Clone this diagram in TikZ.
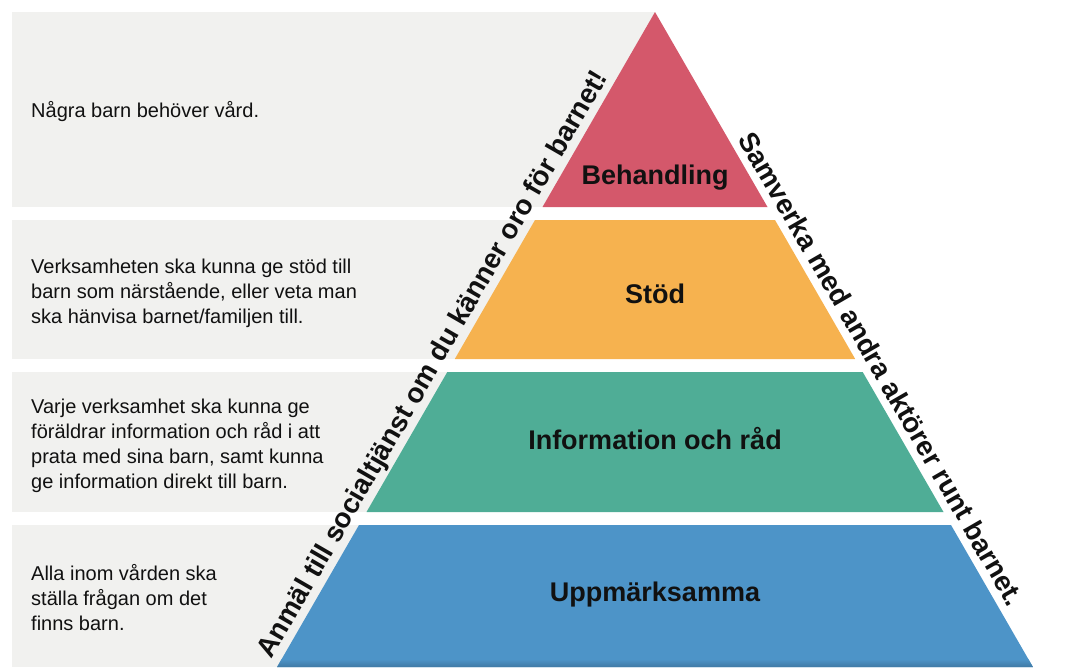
\documentclass[tikz,border=0pt]{standalone}
\usepackage{fontspec}
\setmainfont{Liberation Sans}
\definecolor{panel}{HTML}{F1F1EF}
\definecolor{cred}{HTML}{D4586B}
\definecolor{corange}{HTML}{F6B24F}
\definecolor{cgreen}{HTML}{4FAD96}
\definecolor{cblue}{HTML}{4D94C8}
\definecolor{ink}{HTML}{111111}
\begin{document}
\begin{tikzpicture}[x=1pt,y=-1pt,
  body/.style={anchor=base west, inner sep=0pt, font=\fontsize{20}{25}\selectfont, text=ink},
  level/.style={anchor=base, inner sep=0pt, font=\fontsize{27}{32}\selectfont\bfseries, text=ink},
  side/.style={anchor=base, inner sep=0pt, font=\fontsize{27.7}{32}\selectfont\bfseries, text=ink},
  panelbox/.style={fill=panel, draw=none}]
\useasboundingbox (0,0) rectangle (1084,667);
% grey panels
\path[panelbox] (12,12) rectangle (655,207);
\path[panelbox] (12,220) rectangle (655,359);
\path[panelbox] (12,372) rectangle (655,512);
\path[panelbox] (12,525) rectangle (655,667);
% pyramid bands
\fill[cred] (655,12) -- (767.5,207) -- (542.5,207) -- cycle;
\fill[corange] (535,220) -- (775,220) -- (855.2,359) -- (454.8,359) -- cycle;
\fill[cgreen] (447.3,372) -- (862.7,372) -- (943.5,512) -- (366.5,512) -- cycle;
\fill[cblue] (359,525) -- (951,525) -- (1032.9,667) -- (277.1,667) -- cycle;
\shade[top color=cblue, bottom color=cblue!82!black] (281.7,659) -- (1028.3,659) -- (1032.9,667) -- (277.1,667) -- cycle;
% level labels
\node[level] (behandling) at (655,184) {Behandling};
\node[level] (stod) at (655,303) {Stöd};
\node[level] (info) at (655,449) {Information och råd};
\node[level] (uppm) at (655,601) {Uppmärksamma};
% side texts
\node[side, rotate=60] (anmal) at (440.1,368.3) {Anmäl till socialtjänst om du känner oro för barnet!};
\node[side, rotate=-60] (samverka) at (873.2,373.9) {Samverka med andra aktörer runt barnet.};
% panel texts
\node[body] (p1a) at (31,117) {Några barn behöver vård.};
\node[body] (p2a) at (31,273) {Verksamheten ska kunna ge stöd till};
\node[body] (p2b) at (31,298) {barn som närstående, eller veta man};
\node[body] (p2c) at (31,323) {ska hänvisa barnet/familjen till.};
\node[body] (p3a) at (31,413) {Varje verksamhet ska kunna ge};
\node[body] (p3b) at (31,438) {föräldrar information och råd i att};
\node[body] (p3c) at (31,463) {prata med sina barn, samt kunna};
\node[body] (p3d) at (31,488) {ge information direkt till barn.};
\node[body] (p4a) at (31,580) {Alla inom vården ska};
\node[body] (p4b) at (31,605) {ställa frågan om det};
\node[body] (p4c) at (31,630) {finns barn.};
\end{tikzpicture}
\end{document}
